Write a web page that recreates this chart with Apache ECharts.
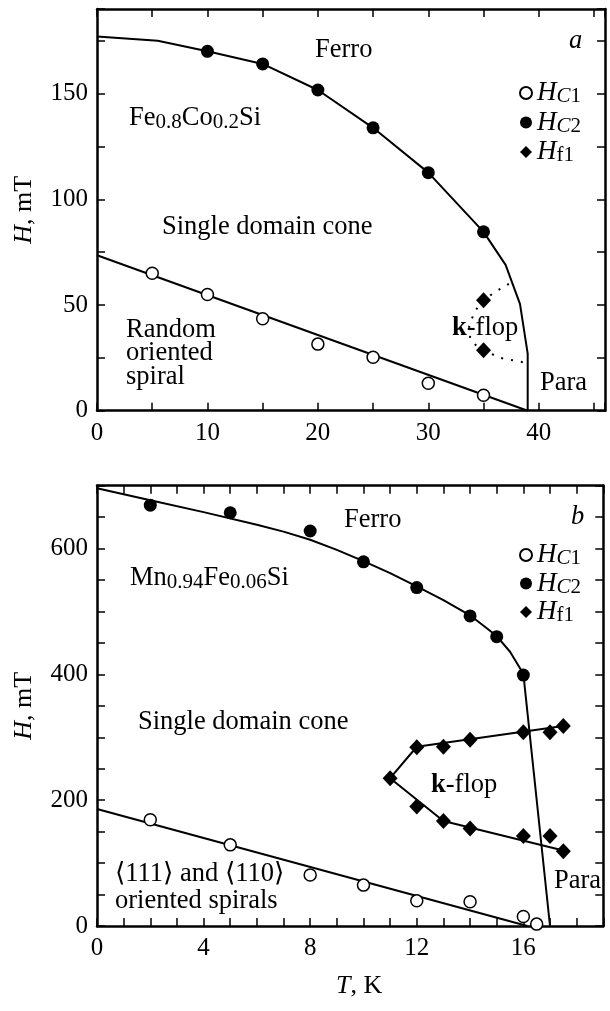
<!DOCTYPE html>
<html><head><meta charset="utf-8">
<script src="https://cdn.jsdelivr.net/npm/echarts@6/dist/echarts.min.js"></script>
<style>html,body{margin:0;padding:0;background:#fff}#c{width:610px;height:1011px}</style>
</head><body><div id="c"></div>
<script>
// ---------- Panel a: Fe0.8Co0.2Si ----------
const aXLabels = [0, 10, 20, 30, 40];
const aYLabels = [0, 50, 100, 150];
const aHC1 = [[5, 65], [10, 55], [15, 43.5], [20, 31.5], [25, 25.3], [30, 13], [35, 7.3]];
const aHC2 = [[10, 170], [15, 164], [20, 151.7], [25, 133.8], [30, 112.6], [35, 84.6]];
const aHfl = [[35, 52.3], [35, 28.6]];
const aLineC1 = [[0, 73.5], [39, 0]];
const aLineC2 = [[0, 177], [5.5, 175], [10, 170], [15, 164], [20, 151.7], [25, 133.8], [30, 112.6], [35, 84.6], [37, 69], [38.3, 50.5], [39, 27], [39, 0]];
const aLineFl = [[37.3, 60], [36, 56], [35, 52.3], [34.2, 47], [33.7, 40], [33.8, 34], [34.3, 31], [35, 28.6], [36.5, 25], [38.8, 22.7]];

// ---------- Panel b: Mn0.94Fe0.06Si ----------
const bXLabels = [0, 4, 8, 12, 16];
const bYLabels = [0, 200, 400, 600];
const bHC1 = [[2, 169], [5, 129], [8, 81], [10, 65], [12, 40], [14, 38.5], [16, 15], [16.5, 3]];
const bHC2 = [[2, 669], [5, 657], [8, 628], [10, 579], [12, 538], [14, 493], [15, 460], [16, 399]];
const bHfl = [[12, 284], [13, 285], [14, 296], [16, 308], [17, 308], [17.5, 318], [11, 235], [12, 190], [13, 167], [14, 155], [16, 143], [17, 143], [17.5, 119]];
const bLineC1 = [[0, 186], [16.15, 0]];
const bLineC2 = [[0, 696], [2, 677], [4, 658], [6, 638], [7, 627], [8, 614], [9, 598], [10, 580], [11, 561], [12, 540], [13, 518], [14, 494], [15, 461], [15.5, 436], [16, 401], [17, 0]];
const bLineFl = [[17.5, 318], [12, 285], [11, 235], [13, 167], [17.5, 120]];

const SERIF = '"Liberation Serif","DejaVu Serif","Times New Roman",serif';
const BLACK = '#000';

function richSet(lh, main, sub) {
  main = main || 26.5; sub = sub || 21;
  return {
    i: {fontFamily: SERIF, fontSize: main, fontStyle: 'italic', color: BLACK, lineHeight: lh},
    b: {fontFamily: SERIF, fontSize: main, fontWeight: 'bold', color: BLACK, lineHeight: lh},
    s: {fontFamily: SERIF, fontSize: sub, color: BLACK, verticalAlign: 'bottom', lineHeight: 16},
    si: {fontFamily: SERIF, fontSize: sub, fontStyle: 'italic', color: BLACK, verticalAlign: 'bottom', lineHeight: 16}
  };
}

function txt(x, y, text, extra) {
  return {
    type: 'text', x: x, y: y, z: 50,
    style: Object.assign({
      text: text, fill: BLACK, fontFamily: SERIF, fontSize: 26.5,
      align: 'left', verticalAlign: 'middle', lineHeight: 30, rich: richSet(30)
    }, extra || {})
  };
}

function xAxes(grid, max, interval, labels, withName) {
  const common = {
    gridIndex: grid, type: 'value', min: 0, max: max, interval: interval,
    axisLine: {show: true, onZero: false, lineStyle: {color: BLACK, width: 2.5}},
    axisTick: {show: true, inside: true, length: 8, lineStyle: {color: BLACK, width: 1.5}},
    splitLine: {show: false}
  };
  const bottom = Object.assign({}, common, {
    position: 'bottom',
    axisLabel: {
      margin: 10, color: BLACK, fontFamily: SERIF, fontSize: 25,
      formatter: v => labels.includes(v) ? String(v) : ''
    }
  });
  if (withName) {
    Object.assign(bottom, {
      name: '{i|T}, K', nameLocation: 'middle', nameGap: 46,
      nameTextStyle: {color: BLACK, fontFamily: SERIF, fontSize: 26, padding: [0, 0, 0, 18], rich: richSet(28, 26)}
    });
  }
  const top = Object.assign({}, common, {position: 'top', axisLabel: {show: false}});
  return [bottom, top];
}

function yAxes(grid, max, interval, labels) {
  const common = {
    gridIndex: grid, type: 'value', min: 0, max: max, interval: interval,
    axisLine: {show: true, onZero: false, lineStyle: {color: BLACK, width: 2.5}},
    axisTick: {show: true, inside: true, length: 8, lineStyle: {color: BLACK, width: 1.5}},
    splitLine: {show: false}
  };
  const left = Object.assign({}, common, {
    position: 'left',
    axisLabel: {
      margin: 9, color: BLACK, fontFamily: SERIF, fontSize: 25,
      formatter: v => labels.includes(v) ? String(v) : ''
    },
    name: '{i|H}, mT', nameLocation: 'middle', nameGap: 59, nameRotate: 90,
    nameTextStyle: {color: BLACK, fontFamily: SERIF, fontSize: 26, rich: richSet(28, 26)}
  });
  const right = Object.assign({}, common, {position: 'right', axisLabel: {show: false}});
  return [left, right];
}

function lineSeries(name, xi, yi, data, opts) {
  opts = opts || {};
  return {
    name: name, type: 'line', xAxisIndex: xi, yAxisIndex: yi, data: data,
    symbol: 'none', silent: true, z: 2, smooth: false,
    lineStyle: {color: BLACK, width: 2, type: opts.dashed ? [2, 8] : 'solid', join: 'round'}
  };
}
function openSeries(xi, yi, data) {
  return {name: 'HC1', type: 'scatter', xAxisIndex: xi, yAxisIndex: yi, data: data,
    symbol: 'circle', symbolSize: 12, z: 5,
    itemStyle: {color: '#fff', borderColor: BLACK, borderWidth: 1.5, opacity: 1}};
}
function filledSeries(xi, yi, data) {
  return {name: 'HC2', type: 'scatter', xAxisIndex: xi, yAxisIndex: yi, data: data,
    symbol: 'circle', symbolSize: 13, z: 5,
    itemStyle: {color: BLACK, opacity: 1}};
}
function diamondSeries(xi, yi, data) {
  return {name: 'Hfl', type: 'scatter', xAxisIndex: xi, yAxisIndex: yi, data: data,
    symbol: 'diamond', symbolSize: [15, 16], z: 5,
    itemStyle: {color: BLACK, opacity: 1}};
}

const legendNames = {HC1: '{i|H}{si|C}{s|1}', HC2: '{i|H}{si|C}{s|2}', Hfl: '{i|H}{s|f1}'};
function legend(top, gap) {
  return {
    left: 514, top: top, orient: 'vertical', itemWidth: 12, itemHeight: 12, itemGap: gap,
    selectedMode: false,
    data: ['HC1', 'HC2', 'Hfl'],
    formatter: n => legendNames[n],
    textStyle: {color: BLACK, fontFamily: SERIF, fontSize: 27, lineHeight: 28, rich: richSet(28, 27, 21)}
  };
}

const chart = echarts.init(document.getElementById('c'), null, {renderer: 'canvas'});
const xa = xAxes(0, 46, 5, aXLabels, false);
const xb = xAxes(1, 19, 1, bXLabels, true);
const ya = yAxes(0, 190, 25, aYLabels);
const yb = yAxes(1, 700, 50, bYLabels);

chart.setOption({
  backgroundColor: '#fff',
  animation: false,
  grid: [
    {left: 97, right: 5, top: 9, bottom: 600.3},
    {left: 97, right: 6.7, top: 485.7, bottom: 85}
  ],
  xAxis: [xa[0], xa[1], xb[0], xb[1]],
  yAxis: [ya[0], ya[1], yb[0], yb[1]],
  legend: [legend(74, 1.5), legend(536, 0.5)],
  series: [
    lineSeries('a-C1', 0, 0, aLineC1),
    lineSeries('a-C2', 0, 0, aLineC2),
    lineSeries('a-fl', 0, 0, aLineFl, {dashed: true}),
    openSeries(0, 0, aHC1),
    filledSeries(0, 0, aHC2),
    diamondSeries(0, 0, aHfl),
    lineSeries('b-C1', 2, 2, bLineC1),
    lineSeries('b-C2', 2, 2, bLineC2),
    lineSeries('b-fl', 2, 2, bLineFl),
    openSeries(2, 2, bHC1),
    filledSeries(2, 2, bHC2),
    diamondSeries(2, 2, bHfl)
  ],
  graphic: [
    // panel a
    txt(315, 50, 'Ferro'),
    txt(569, 41, '{i|a}'),
    txt(129, 118, 'Fe{s|0.8}Co{s|0.2}Si'),
    txt(162, 227, 'Single domain cone'),
    txt(126, 353.5, 'Random\noriented\nspiral', {lineHeight: 23.5, rich: richSet(23.5)}),
    txt(452, 328, '{b|k}-flop'),
    txt(540, 383, 'Para'),
    // panel b
    txt(344, 520, 'Ferro'),
    txt(571, 517, '{i|b}'),
    txt(130, 578, 'Mn{s|0.94}Fe{s|0.06}Si'),
    txt(138, 722, 'Single domain cone'),
    txt(431, 785, '{b|k}-flop'),
    txt(554, 881, 'Para'),
    txt(115, 888, '\u27E8111\u27E9 and \u27E8110\u27E9\noriented spirals', {lineHeight: 27, rich: richSet(27)})
  ]
});
</script>
</body></html>
